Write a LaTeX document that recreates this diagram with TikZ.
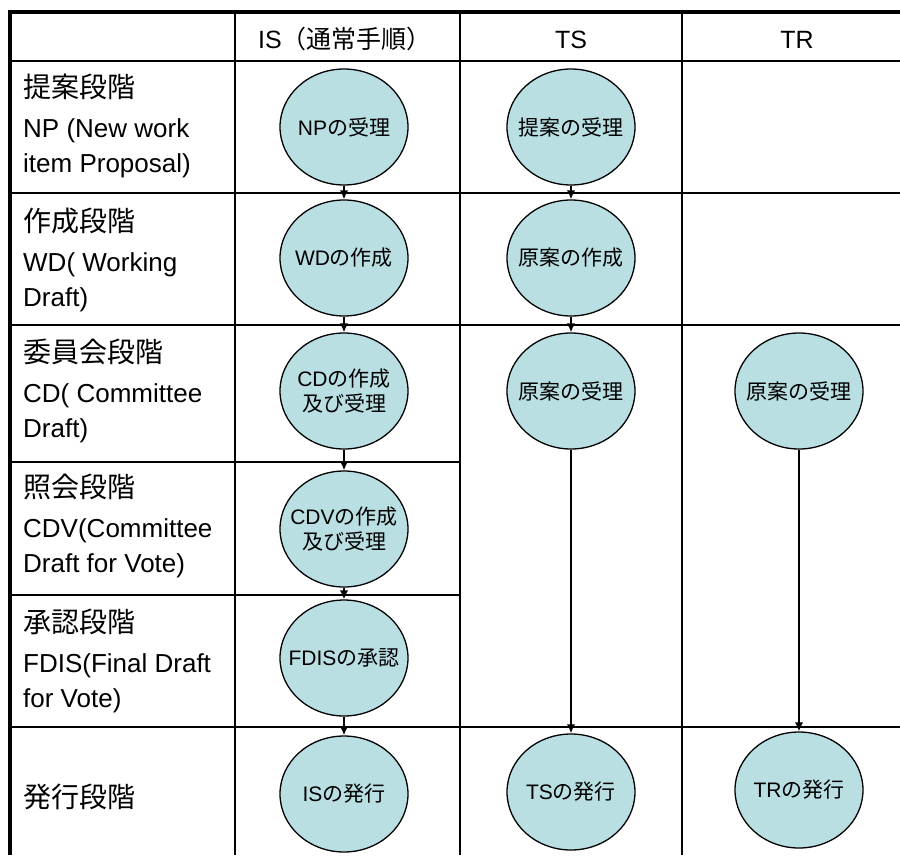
\documentclass[tikz,border=0pt]{standalone}
\usepackage{fontspec}
\setmainfont{Liberation Sans}
\newfontfamily\jp{Noto Sans CJK JP}
\usetikzlibrary{shapes.geometric,arrows.meta}
\definecolor{stagefill}{RGB}{185,223,227}

\begin{document}
\begin{tikzpicture}[x=1pt, y=-1pt,
	stage/.style={ellipse, draw, line width=1.3pt, fill=stagefill,
		minimum width=128pt, minimum height=116pt, inner sep=0pt},
	stagetext/.style={align=center, inner sep=0pt, font=\fontsize{21}{25}\selectfont},
	rowlabel/.style={anchor=base west, align=left, inner sep=0pt,
		font=\fontsize{26}{34.5}\selectfont},
	colhead/.style={anchor=base, inner sep=0pt, font=\fontsize{25}{30}\selectfont},
	flow/.style={-{Latex[length=9pt,width=8.5pt]}, line width=1.8pt},
	grid/.style={line width=2pt},
	frame/.style={line width=4pt}]

	\useasboundingbox (0,0) rectangle (900,855);

	% Table
	\draw[grid] (9,61) -- (900,61);
	\foreach \y in {193,325,727} \draw[grid] (9,\y) -- (900,\y);
	\foreach \y in {462,595} \draw[grid] (9,\y) -- (460,\y);
	\foreach \x in {235,460,682} \draw[grid] (\x,12) -- (\x,855);
	\draw[frame] (9.5,855) -- (9.5,12) -- (900,12);

	% Column heads
	\node[colhead] (hIS) at (345,48) {IS{\jp （通常手順）}};
	\node[colhead] (hTS) at (571,48) {TS};
	\node[colhead] (hTR) at (797,48) {TR};

	% Stages (anchored on the last line)
	\node[rowlabel] (sNP) at (23,172) {{\jp\fontsize{28}{34}\selectfont 提案段階}\\[5.5pt]NP (New work\\item Proposal)};
	\node[rowlabel] (sWD) at (23,306) {{\jp\fontsize{28}{34}\selectfont 作成段階}\\[5.5pt]WD( Working\\Draft)};
	\node[rowlabel] (sCD) at (23,437) {{\jp\fontsize{28}{34}\selectfont 委員会段階}\\[5.5pt]CD( Committee\\Draft)};
	\node[rowlabel] (sCDV) at (23,572) {{\jp\fontsize{28}{34}\selectfont 照会段階}\\[5.5pt]CDV(Committee\\Draft for Vote)};
	\node[rowlabel] (sFDIS) at (23,707) {{\jp\fontsize{28}{34}\selectfont 承認段階}\\[5.5pt]FDIS(Final Draft\\for Vote)};
	\node[rowlabel] (sPub) at (23,807) {{\jp\fontsize{28}{34}\selectfont 発行段階}};

	% IS
	\node[stage, label={[stagetext]center:NP{\jp の受理}}] (np) at (344,127) {};
	\node[stage, label={[stagetext]center:WD{\jp の作成}}] (wd) at (344,258) {};
	\node[stage, label={[stagetext]center:{CD{\jp の作成}\\{\jp 及び受理}}}] (cd) at (344,391) {};
	\node[stage, label={[stagetext]center:{CDV{\jp の作成}\\{\jp 及び受理}}}] (cdv) at (344,529) {};
	\node[stage, label={[stagetext]center:FDIS{\jp の承認}}] (fdis) at (344,658) {};
	\node[stage, label={[stagetext]center:IS{\jp の発行}}] (ispub) at (344,794) {};

	% TS
	\node[stage, label={[stagetext]center:{\jp 提案の受理}}] (tsprop) at (571,127) {};
	\node[stage, label={[stagetext]center:{\jp 原案の作成}}] (tsdraft) at (571,258) {};
	\node[stage, label={[stagetext]center:{\jp 原案の受理}}] (tsrecv) at (571,391) {};
	\node[stage, label={[stagetext]center:TS{\jp の発行}}] (tspub) at (571,792) {};

	% TR
	\node[stage, label={[stagetext]center:{\jp 原案の受理}}] (trrecv) at (799,391) {};
	\node[stage, label={[stagetext]center:TR{\jp の発行}}] (trpub) at (799,790) {};

	% Flow
	\foreach \a/\b in {np/wd, wd/cd, cd/cdv, cdv/fdis, fdis/ispub,
		tsprop/tsdraft, tsdraft/tsrecv, tsrecv/tspub, trrecv/trpub}
		\draw[flow] (\a) -- (\b);

\end{tikzpicture}
\end{document}
